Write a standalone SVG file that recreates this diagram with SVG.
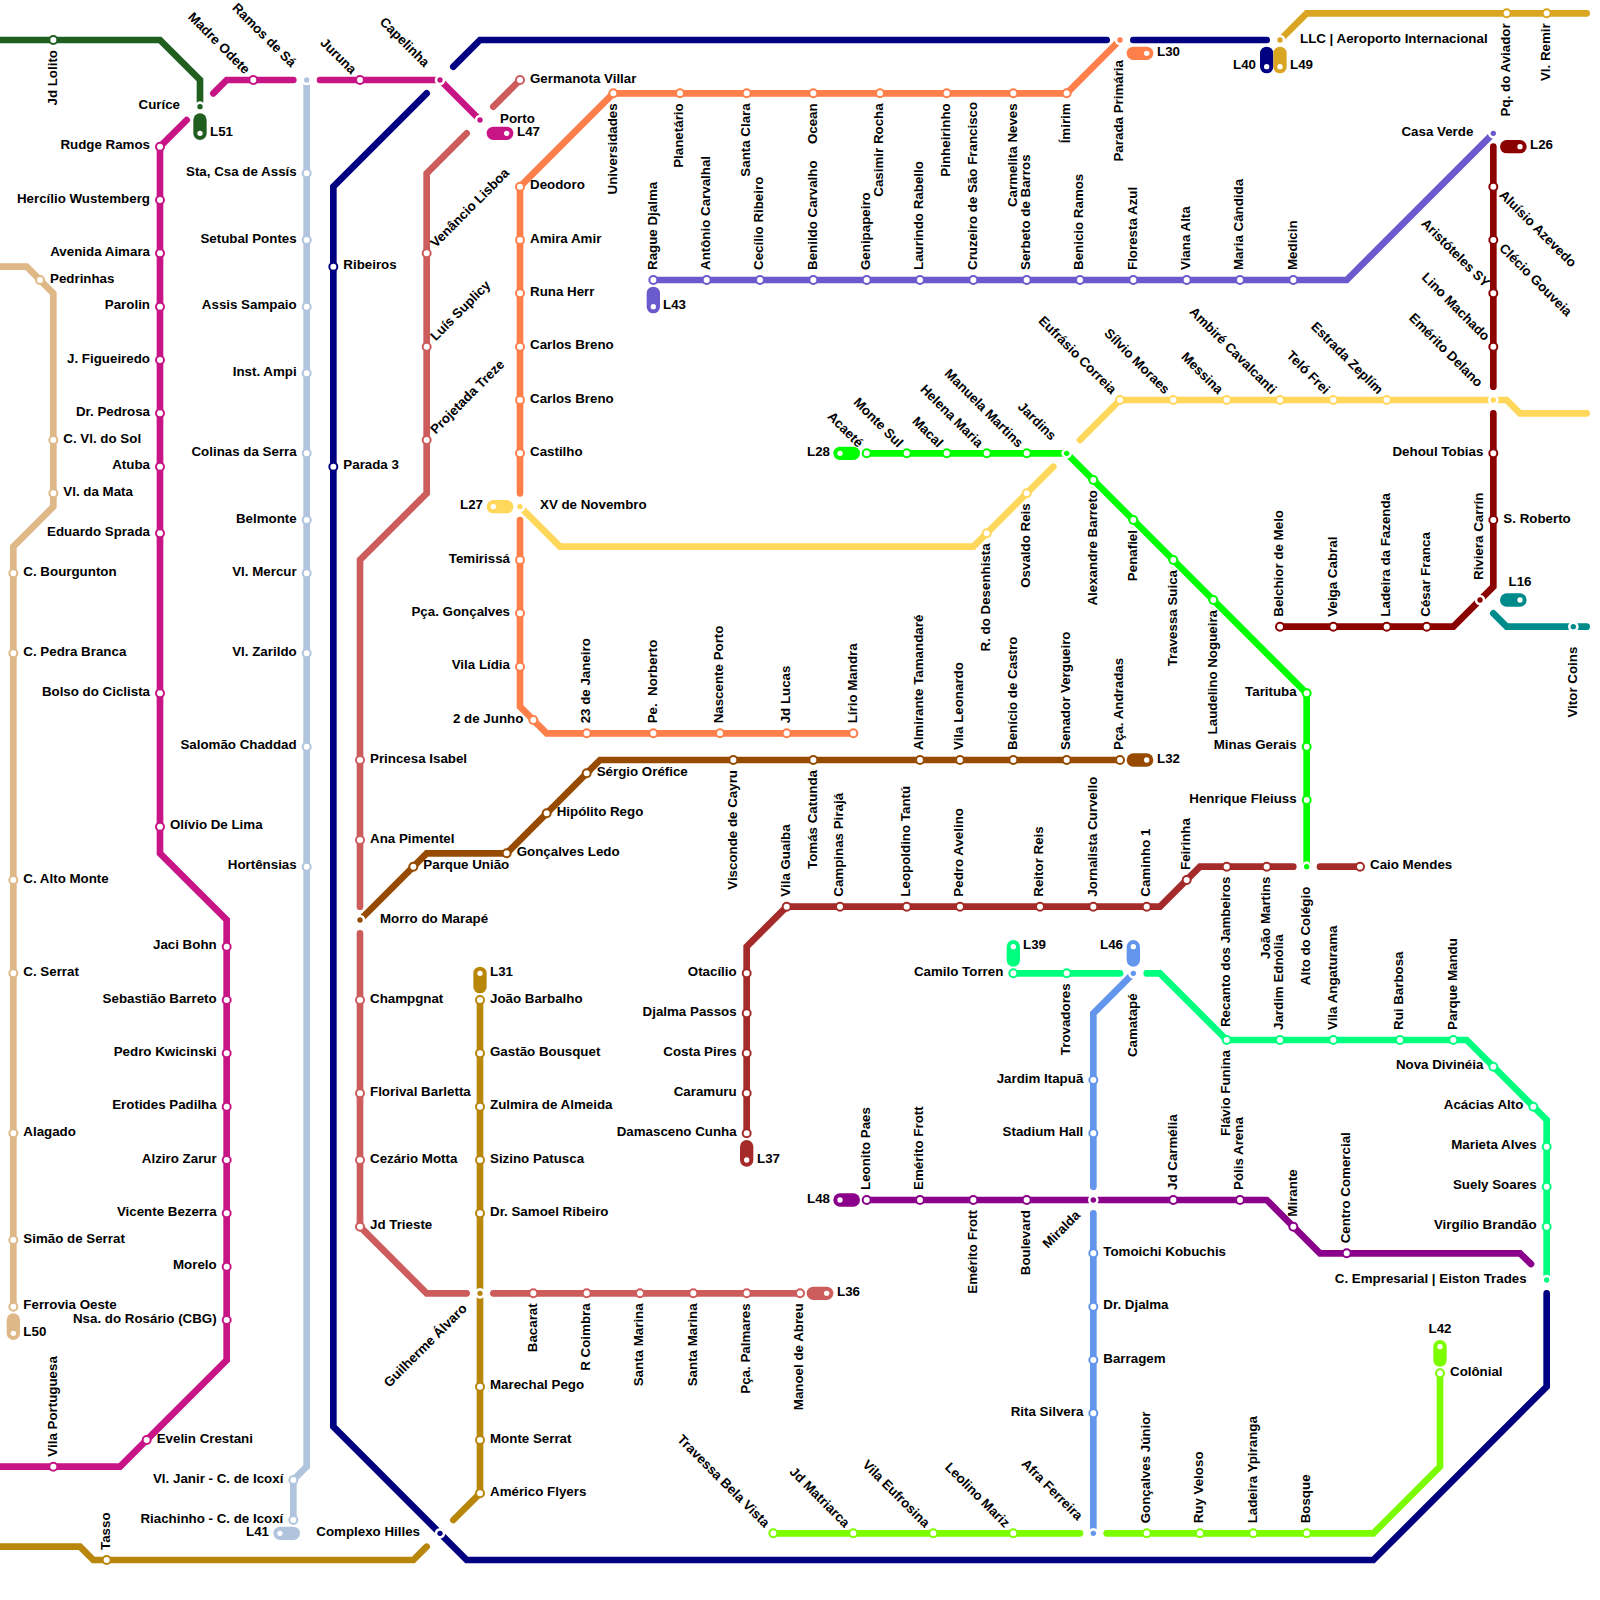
<svg xmlns="http://www.w3.org/2000/svg" width="1600" height="1600" viewBox="0 0 1600 1600">
<style>
text{font-family:"Liberation Sans",Arial,sans-serif;font-weight:bold;font-size:13.33px;fill:#000}
.e{text-anchor:end}.m{text-anchor:middle}
.v{transform:rotate(-90deg) translateY(.5px)}.d{transform:rotate(45deg)}.u{transform:rotate(-45deg)}
.ln{fill:none;stroke:currentColor;stroke-width:6.67;stroke-linecap:round;stroke-linejoin:miter}
.pl{fill:none;stroke:currentColor;stroke-width:13.33;stroke-linecap:round}
.st{fill:#fff;stroke:currentColor;stroke-width:2}
.rg,.pd{fill:#fff}.dt{fill:currentColor}
.dg{color:#215f21}.mg{color:#c71585}.tn{color:#deb887}.lb{color:#b0c4de}.nv{color:#000080}.sl{color:#cd5c5c}.or{color:#ff7f4a}.ye{color:#ffd75a}.lm{color:#00ff00}.gt{color:#daa520}.dk{color:#b8860b}.sb{color:#6a5acd}.dr{color:#8b0000}.te{color:#008b8b}.br{color:#964b00}.bk{color:#a52a2a}.sg{color:#00ff7f}.cb{color:#6495ed}.pp{color:#8b008b}.lw{color:#7cfc00}
</style>
<g id="connectors">
<polyline class="ln dg" points="0,40 160,40 200,80 200,106.67"/>
<polyline class="ln mg" points="0,1466.67 120,1466.67 226.67,1360 226.67,920 160,853.33 160,146.67 186.67,120"/>
<polyline class="ln mg" points="213.33,93.33 226.67,80 293.33,80"/>
<polyline class="ln mg" points="320,80 440,80 480,120"/>
<polyline class="ln tn" points="0,266.67 26.67,266.67 53.33,293.33 53.33,506.67 13.33,546.67 13.33,1306.67"/>
<polyline class="ln lb" points="306.67,80 306.67,1466.67 293.33,1480 293.33,1520"/>
<polyline class="ln nv" points="453.33,66.67 480,40 1106.67,40"/>
<polyline class="ln nv" points="1133.33,40 1266.67,40"/>
<polyline class="ln nv" points="426.67,93.33 333.33,186.67 333.33,1426.67 466.67,1560 1373.33,1560 1546.67,1386.67 1546.67,1293.33"/>
<polyline class="ln sl" points="520,80 493.33,106.67"/>
<polyline class="ln sl" points="466.67,133.33 426.67,173.33 426.67,493.33 360,560 360,906.67"/>
<polyline class="ln sl" points="360,933.33 360,1226.67 426.67,1293.33 466.67,1293.33"/>
<polyline class="ln sl" points="493.33,1293.33 800,1293.33"/>
<polyline class="ln or" points="1120,40 1066.67,93.33 613.33,93.33 520,186.67 520,493.33"/>
<polyline class="ln or" points="520,520 520,706.67 546.67,733.33 853.33,733.33"/>
<polyline class="ln ye" points="520,506.67 560,546.67 973.33,546.67 1053.33,466.67"/>
<polyline class="ln ye" points="1080,440 1120,400 1506.67,400 1520,413.33 1586.67,413.33"/>
<polyline class="ln lm" points="866.67,453.33 1066.67,453.33 1306.67,693.33 1306.67,866.67"/>
<polyline class="ln gt" points="1280,40 1306.67,13.33 1586.67,13.33"/>
<polyline class="ln dk" points="480,1000 480,1493.33 453.33,1520"/>
<polyline class="ln dk" points="426.67,1546.67 413.33,1560 93.33,1560 80,1546.67 0,1546.67"/>
<polyline class="ln sb" points="653.33,280 1346.67,280 1493.33,133.33"/>
<polyline class="ln dr" points="1493.33,146.67 1493.33,386.67"/>
<polyline class="ln dr" points="1493.33,413.33 1493.33,586.67 1453.33,626.67 1280,626.67"/>
<polyline class="ln te" points="1493.33,613.33 1506.67,626.67 1586.67,626.67"/>
<polyline class="ln br" points="360,920 426.67,853.33 506.67,853.33 600,760 1120,760"/>
<polyline class="ln bk" points="746.67,1133.33 746.67,946.67 786.67,906.67 1160,906.67 1200,866.67 1293.33,866.67"/>
<polyline class="ln bk" points="1320,866.67 1360,866.67"/>
<polyline class="ln sg" points="1013.33,973.33 1120,973.33"/>
<polyline class="ln sg" points="1146.67,973.33 1160,973.33 1226.67,1040 1466.67,1040 1546.67,1120 1546.67,1280"/>
<polyline class="ln cb" points="1133.33,973.33 1093.33,1013.33 1093.33,1186.67"/>
<polyline class="ln cb" points="1093.33,1213.33 1093.33,1533.33"/>
<polyline class="ln pp" points="866.67,1200 1266.67,1200 1320,1253.33 1520,1253.33 1531,1264"/>
<polyline class="ln lw" points="773.33,1533.33 1080,1533.33"/>
<polyline class="ln lw" points="1106.67,1533.33 1373.33,1533.33 1440,1466.67 1440,1373.33"/>
</g>
<g id="line-labels">
<g id="L51" class="dg"><line class="pl" x1="200" y1="120" x2="200" y2="133.33"/><circle class="pd" cx="200" cy="133.33" r="2.67"/><text x="210" y="136">L51</text></g>
<g id="L47" class="mg"><line class="pl" x1="493.33" y1="133.33" x2="506.67" y2="133.33"/><circle class="pd" cx="506.67" cy="133.33" r="2.67"/><text x="517" y="136">L47</text></g>
<g id="L50" class="tn"><line class="pl" x1="13.33" y1="1320" x2="13.33" y2="1333.33"/><circle class="pd" cx="13.33" cy="1333.33" r="2.67"/><text x="23.33" y="1336">L50</text></g>
<g id="L41" class="lb"><line class="pl" x1="280" y1="1533.33" x2="293.33" y2="1533.33"/><circle class="pd" cx="280" cy="1533.33" r="2.67"/><text class="e" x="269" y="1536">L41</text></g>
<g id="L40" class="nv"><line class="pl" x1="1266.67" y1="53.33" x2="1266.67" y2="66.67"/><circle class="pd" cx="1266.67" cy="66.67" r="2.67"/><text class="e" x="1256" y="69.33">L40</text></g>
<g id="L49" class="gt"><line class="pl" x1="1280" y1="53.33" x2="1280" y2="66.67"/><circle class="pd" cx="1280" cy="66.67" r="2.67"/><text x="1290" y="69.33">L49</text></g>
<g id="L36" class="sl"><line class="pl" x1="813.33" y1="1293.33" x2="826.67" y2="1293.33"/><circle class="pd" cx="826.67" cy="1293.33" r="2.67"/><text x="837" y="1296">L36</text></g>
<g id="L30" class="or"><line class="pl" x1="1133.33" y1="53.33" x2="1146.67" y2="53.33"/><circle class="pd" cx="1146.67" cy="53.33" r="2.67"/><text x="1157" y="56">L30</text></g>
<g id="L27" class="ye"><line class="pl" x1="493.33" y1="506.67" x2="506.67" y2="506.67"/><circle class="pd" cx="493.33" cy="506.67" r="2.67"/><text class="e" x="483" y="509.33">L27</text></g>
<g id="L28" class="lm"><line class="pl" x1="840" y1="453.33" x2="853.33" y2="453.33"/><circle class="pd" cx="840" cy="453.33" r="2.67"/><text class="e" x="830" y="456">L28</text></g>
<g id="L31" class="dk"><line class="pl" x1="480" y1="973.33" x2="480" y2="986.67"/><circle class="pd" cx="480" cy="973.33" r="2.67"/><text x="490" y="976">L31</text></g>
<g id="L43" class="sb"><line class="pl" x1="653.33" y1="293.33" x2="653.33" y2="306.67"/><circle class="pd" cx="653.33" cy="306.67" r="2.67"/><text x="663" y="309.33">L43</text></g>
<g id="L26" class="dr"><line class="pl" x1="1506.67" y1="146.67" x2="1520" y2="146.67"/><circle class="pd" cx="1520" cy="146.67" r="2.67"/><text x="1530" y="149.33">L26</text></g>
<g id="L16" class="te"><line class="pl" x1="1506.67" y1="600" x2="1520" y2="600"/><circle class="pd" cx="1520" cy="600" r="2.67"/><text class="m" x="1520" y="586">L16</text></g>
<g id="L32" class="br"><line class="pl" x1="1133.33" y1="760" x2="1146.67" y2="760"/><circle class="pd" cx="1146.67" cy="760" r="2.67"/><text x="1157" y="762.67">L32</text></g>
<g id="L37" class="bk"><line class="pl" x1="746.67" y1="1146.67" x2="746.67" y2="1160"/><circle class="pd" cx="746.67" cy="1160" r="2.67"/><text x="757" y="1162.67">L37</text></g>
<g id="L39" class="sg"><line class="pl" x1="1013.33" y1="946.67" x2="1013.33" y2="960"/><circle class="pd" cx="1013.33" cy="946.67" r="2.67"/><text x="1023" y="949.33">L39</text></g>
<g id="L46" class="cb"><line class="pl" x1="1133.33" y1="946.67" x2="1133.33" y2="960"/><circle class="pd" cx="1133.33" cy="946.67" r="2.67"/><text class="e" x="1123" y="949.33">L46</text></g>
<g id="L48" class="pp"><line class="pl" x1="840" y1="1200" x2="853.33" y2="1200"/><circle class="pd" cx="840" cy="1200" r="2.67"/><text class="e" x="830" y="1202.67">L48</text></g>
<g id="L42" class="lw"><line class="pl" x1="1440" y1="1346.67" x2="1440" y2="1360"/><circle class="pd" cx="1440" cy="1346.67" r="2.67"/><text class="m" x="1440" y="1333">L42</text></g>
</g>
<g id="stations">
<g id="dg1" class="dg" transform="translate(53.33 40)"><circle class="st" r="4"/><text class="v e" x="-10" y="2.67">Jd Lolito</text></g>
<g id="mg1" class="mg" transform="translate(160 146.67)"><circle class="st" r="4"/><text class="e" x="-10" y="2.67">Rudge Ramos</text></g>
<g id="mg2" class="mg" transform="translate(160 200)"><circle class="st" r="4"/><text class="e" x="-10" y="2.67">Hercílio Wustemberg</text></g>
<g id="mg3" class="mg" transform="translate(160 253.33)"><circle class="st" r="4"/><text class="e" x="-10" y="2.67">Avenida Aimara</text></g>
<g id="mg4" class="mg" transform="translate(160 306.67)"><circle class="st" r="4"/><text class="e" x="-10" y="2.67">Parolin</text></g>
<g id="mg5" class="mg" transform="translate(160 360)"><circle class="st" r="4"/><text class="e" x="-10" y="2.67">J. Figueiredo</text></g>
<g id="mg6" class="mg" transform="translate(160 413.33)"><circle class="st" r="4"/><text class="e" x="-10" y="2.67">Dr. Pedrosa</text></g>
<g id="mg7" class="mg" transform="translate(160 466.67)"><circle class="st" r="4"/><text class="e" x="-10" y="2.67">Atuba</text></g>
<g id="mg8" class="mg" transform="translate(160 533.33)"><circle class="st" r="4"/><text class="e" x="-10" y="2.67">Eduardo Sprada</text></g>
<g id="mg9" class="mg" transform="translate(160 693.33)"><circle class="st" r="4"/><text class="e" x="-10" y="2.67">Bolso do Ciclista</text></g>
<g id="mg10" class="mg" transform="translate(160 826.67)"><circle class="st" r="4"/><text x="10" y="2.67">Olívio De Lima</text></g>
<g id="mg11" class="mg" transform="translate(226.67 946.67)"><circle class="st" r="4"/><text class="e" x="-10" y="2.67">Jaci Bohn</text></g>
<g id="mg12" class="mg" transform="translate(226.67 1000)"><circle class="st" r="4"/><text class="e" x="-10" y="2.67">Sebastião Barreto</text></g>
<g id="mg13" class="mg" transform="translate(226.67 1053.33)"><circle class="st" r="4"/><text class="e" x="-10" y="2.67">Pedro Kwicinski</text></g>
<g id="mg14" class="mg" transform="translate(226.67 1106.67)"><circle class="st" r="4"/><text class="e" x="-10" y="2.67">Erotides Padilha</text></g>
<g id="mg15" class="mg" transform="translate(226.67 1160)"><circle class="st" r="4"/><text class="e" x="-10" y="2.67">Alziro Zarur</text></g>
<g id="mg16" class="mg" transform="translate(226.67 1213.33)"><circle class="st" r="4"/><text class="e" x="-10" y="2.67">Vicente Bezerra</text></g>
<g id="mg17" class="mg" transform="translate(226.67 1266.67)"><circle class="st" r="4"/><text class="e" x="-10" y="2.67">Morelo</text></g>
<g id="mg18" class="mg" transform="translate(226.67 1320)"><circle class="st" r="4"/><text class="e" x="-10" y="2.67">Nsa. do Rosário (CBG)</text></g>
<g id="mg19" class="mg" transform="translate(146.67 1440)"><circle class="st" r="4"/><text x="10" y="2.67">Evelin Crestani</text></g>
<g id="mg20" class="mg" transform="translate(53.33 1466.67)"><circle class="st" r="4"/><text class="v" x="10" y="2.67">Vila Portuguesa</text></g>
<g id="mg21" class="mg" transform="translate(253.33 80)"><circle class="st" r="4"/><text class="d e" x="-10" y="2.67">Madre Odete</text></g>
<g id="mg22" class="mg" transform="translate(360 80)"><circle class="st" r="4"/><text class="d e" x="-10" y="2.67">Juruna</text></g>
<g id="tn1" class="tn" transform="translate(40 280)"><circle class="st" r="4"/><text x="10" y="2.67">Pedrinhas</text></g>
<g id="tn2" class="tn" transform="translate(53.33 440)"><circle class="st" r="4"/><text x="10" y="2.67">C. Vl. do Sol</text></g>
<g id="tn3" class="tn" transform="translate(53.33 493.33)"><circle class="st" r="4"/><text x="10" y="2.67">Vl. da Mata</text></g>
<g id="tn4" class="tn" transform="translate(13.33 573.33)"><circle class="st" r="4"/><text x="10" y="2.67">C. Bourgunton</text></g>
<g id="tn5" class="tn" transform="translate(13.33 653.33)"><circle class="st" r="4"/><text x="10" y="2.67">C. Pedra Branca</text></g>
<g id="tn6" class="tn" transform="translate(13.33 880)"><circle class="st" r="4"/><text x="10" y="2.67">C. Alto Monte</text></g>
<g id="tn7" class="tn" transform="translate(13.33 973.33)"><circle class="st" r="4"/><text x="10" y="2.67">C. Serrat</text></g>
<g id="tn8" class="tn" transform="translate(13.33 1133.33)"><circle class="st" r="4"/><text x="10" y="2.67">Alagado</text></g>
<g id="tn9" class="tn" transform="translate(13.33 1240)"><circle class="st" r="4"/><text x="10" y="2.67">Simão de Serrat</text></g>
<g id="tn10" class="tn" transform="translate(13.33 1306.67)"><circle class="st" r="4"/><text x="10" y="2.67">Ferrovia Oeste</text></g>
<g id="lb1" class="lb" transform="translate(306.67 173.33)"><circle class="st" r="4"/><text class="e" x="-10" y="2.67">Sta, Csa de Assís</text></g>
<g id="lb2" class="lb" transform="translate(306.67 240)"><circle class="st" r="4"/><text class="e" x="-10" y="2.67">Setubal Pontes</text></g>
<g id="lb3" class="lb" transform="translate(306.67 306.67)"><circle class="st" r="4"/><text class="e" x="-10" y="2.67">Assis Sampaio</text></g>
<g id="lb4" class="lb" transform="translate(306.67 373.33)"><circle class="st" r="4"/><text class="e" x="-10" y="2.67">Inst. Ampi</text></g>
<g id="lb5" class="lb" transform="translate(306.67 453.33)"><circle class="st" r="4"/><text class="e" x="-10" y="2.67">Colinas da Serra</text></g>
<g id="lb6" class="lb" transform="translate(306.67 520)"><circle class="st" r="4"/><text class="e" x="-10" y="2.67">Belmonte</text></g>
<g id="lb7" class="lb" transform="translate(306.67 573.33)"><circle class="st" r="4"/><text class="e" x="-10" y="2.67">Vl. Mercur</text></g>
<g id="lb8" class="lb" transform="translate(306.67 653.33)"><circle class="st" r="4"/><text class="e" x="-10" y="2.67">Vl. Zarildo</text></g>
<g id="lb9" class="lb" transform="translate(306.67 746.67)"><circle class="st" r="4"/><text class="e" x="-10" y="2.67">Salomão Chaddad</text></g>
<g id="lb10" class="lb" transform="translate(306.67 866.67)"><circle class="st" r="4"/><text class="e" x="-10" y="2.67">Hortênsias</text></g>
<g id="lb11" class="lb" transform="translate(293.33 1480)"><circle class="st" r="4"/><text class="e" x="-10" y="2.67">Vl. Janir - C. de Icoxí</text></g>
<g id="lb12" class="lb" transform="translate(293.33 1520)"><circle class="st" r="4"/><text class="e" x="-10" y="2.67">Riachinho - C. de Icoxí</text></g>
<g id="nv1" class="nv" transform="translate(333.33 266.67)"><circle class="st" r="4"/><text x="10" y="2.67">Ribeiros</text></g>
<g id="nv2" class="nv" transform="translate(333.33 466.67)"><circle class="st" r="4"/><text x="10" y="2.67">Parada 3</text></g>
<g id="sl1" class="sl" transform="translate(520 80)"><circle class="st" r="4"/><text x="10" y="2.67">Germanota Villar</text></g>
<g id="sl2" class="sl" transform="translate(426.67 253.33)"><circle class="st" r="4"/><text class="u" x="10" y="2.67">Venâncio Lisboa</text></g>
<g id="sl3" class="sl" transform="translate(426.67 346.67)"><circle class="st" r="4"/><text class="u" x="10" y="2.67">Luís Suplicy</text></g>
<g id="sl4" class="sl" transform="translate(426.67 440)"><circle class="st" r="4"/><text class="u" x="10" y="2.67">Projetada Treze</text></g>
<g id="sl5" class="sl" transform="translate(360 760)"><circle class="st" r="4"/><text x="10" y="2.67">Princesa Isabel</text></g>
<g id="sl6" class="sl" transform="translate(360 840)"><circle class="st" r="4"/><text x="10" y="2.67">Ana Pimentel</text></g>
<g id="sl7" class="sl" transform="translate(360 1000)"><circle class="st" r="4"/><text x="10" y="2.67">Champgnat</text></g>
<g id="sl8" class="sl" transform="translate(360 1093.33)"><circle class="st" r="4"/><text x="10" y="2.67">Florival Barletta</text></g>
<g id="sl9" class="sl" transform="translate(360 1160)"><circle class="st" r="4"/><text x="10" y="2.67">Cezário Motta</text></g>
<g id="sl10" class="sl" transform="translate(360 1226.67)"><circle class="st" r="4"/><text x="10" y="2.67">Jd Trieste</text></g>
<g id="sl11" class="sl" transform="translate(533.33 1293.33)"><circle class="st" r="4"/><text class="v e" x="-10" y="2.67">Bacarat</text></g>
<g id="sl12" class="sl" transform="translate(586.67 1293.33)"><circle class="st" r="4"/><text class="v e" x="-10" y="2.67">R Coimbra</text></g>
<g id="sl13" class="sl" transform="translate(640 1293.33)"><circle class="st" r="4"/><text class="v e" x="-10" y="2.67">Santa Marina</text></g>
<g id="sl14" class="sl" transform="translate(693.33 1293.33)"><circle class="st" r="4"/><text class="v e" x="-10" y="2.67">Santa Marina</text></g>
<g id="sl15" class="sl" transform="translate(746.67 1293.33)"><circle class="st" r="4"/><text class="v e" x="-10" y="2.67">Pça. Palmares</text></g>
<g id="sl16" class="sl" transform="translate(800 1293.33)"><circle class="st" r="4"/><text class="v e" x="-10" y="2.67">Manoel de Abreu</text></g>
<g id="or1" class="or" transform="translate(613.33 93.33)"><circle class="st" r="4"/><text class="v e" x="-10" y="2.67">Universidades</text></g>
<g id="or2" class="or" transform="translate(680 93.33)"><circle class="st" r="4"/><text class="v e" x="-10" y="2.67">Planetário</text></g>
<g id="or3" class="or" transform="translate(746.67 93.33)"><circle class="st" r="4"/><text class="v e" x="-10" y="2.67">Santa Clara</text></g>
<g id="or4" class="or" transform="translate(813.33 93.33)"><circle class="st" r="4"/><text class="v e" x="-10" y="2.67">Ocean</text></g>
<g id="or5" class="or" transform="translate(880 93.33)"><circle class="st" r="4"/><text class="v e" x="-10" y="2.67">Casimir Rocha</text></g>
<g id="or6" class="or" transform="translate(946.67 93.33)"><circle class="st" r="4"/><text class="v e" x="-10" y="2.67">Pinheirinho</text></g>
<g id="or7" class="or" transform="translate(1013.33 93.33)"><circle class="st" r="4"/><text class="v e" x="-10" y="2.67">Carmelita Neves</text></g>
<g id="or8" class="or" transform="translate(1066.67 93.33)"><circle class="st" r="4"/><text class="v e" x="-10" y="2.67">Ímirim</text></g>
<g id="or9" class="or" transform="translate(520 186.67)"><circle class="st" r="4"/><text x="10" y="2.67">Deodoro</text></g>
<g id="or10" class="or" transform="translate(520 240)"><circle class="st" r="4"/><text x="10" y="2.67">Amira Amir</text></g>
<g id="or11" class="or" transform="translate(520 293.33)"><circle class="st" r="4"/><text x="10" y="2.67">Runa Herr</text></g>
<g id="or12" class="or" transform="translate(520 346.67)"><circle class="st" r="4"/><text x="10" y="2.67">Carlos Breno</text></g>
<g id="or13" class="or" transform="translate(520 400)"><circle class="st" r="4"/><text x="10" y="2.67">Carlos Breno</text></g>
<g id="or14" class="or" transform="translate(520 453.33)"><circle class="st" r="4"/><text x="10" y="2.67">Castilho</text></g>
<g id="or15" class="or" transform="translate(520 560)"><circle class="st" r="4"/><text class="e" x="-10" y="2.67">Temirissá</text></g>
<g id="or16" class="or" transform="translate(520 613.33)"><circle class="st" r="4"/><text class="e" x="-10" y="2.67">Pça. Gonçalves</text></g>
<g id="or17" class="or" transform="translate(520 666.67)"><circle class="st" r="4"/><text class="e" x="-10" y="2.67">Vila Lídia</text></g>
<g id="or18" class="or" transform="translate(533.33 720)"><circle class="st" r="4"/><text class="e" x="-10" y="2.67">2 de Junho</text></g>
<g id="or19" class="or" transform="translate(586.67 733.33)"><circle class="st" r="4"/><text class="v" x="10" y="2.67">23 de Janeiro</text></g>
<g id="or20" class="or" transform="translate(653.33 733.33)"><circle class="st" r="4"/><text class="v" x="10" y="2.67" xml:space="preserve">Pe.  Norberto</text></g>
<g id="or21" class="or" transform="translate(720 733.33)"><circle class="st" r="4"/><text class="v" x="10" y="2.67">Nascente Porto</text></g>
<g id="or22" class="or" transform="translate(786.67 733.33)"><circle class="st" r="4"/><text class="v" x="10" y="2.67">Jd Lucas</text></g>
<g id="or23" class="or" transform="translate(853.33 733.33)"><circle class="st" r="4"/><text class="v" x="10" y="2.67">Lírio Mandra</text></g>
<g id="sb1" class="sb" transform="translate(653.33 280)"><circle class="st" r="4"/><text class="v" x="10" y="2.67">Rague Djalma</text></g>
<g id="sb2" class="sb" transform="translate(706.67 280)"><circle class="st" r="4"/><text class="v" x="10" y="2.67">Antônio Carvalhal</text></g>
<g id="sb3" class="sb" transform="translate(760 280)"><circle class="st" r="4"/><text class="v" x="10" y="2.67">Cecílio Ribeiro</text></g>
<g id="sb4" class="sb" transform="translate(813.33 280)"><circle class="st" r="4"/><text class="v" x="10" y="2.67">Benildo Carvalho</text></g>
<g id="sb5" class="sb" transform="translate(866.67 280)"><circle class="st" r="4"/><text class="v" x="10" y="2.67">Genipapeiro</text></g>
<g id="sb6" class="sb" transform="translate(920 280)"><circle class="st" r="4"/><text class="v" x="10" y="2.67">Laurindo Rabello</text></g>
<g id="sb7" class="sb" transform="translate(973.33 280)"><circle class="st" r="4"/><text class="v" x="10" y="2.67">Cruzeiro de São Francisco</text></g>
<g id="sb8" class="sb" transform="translate(1026.67 280)"><circle class="st" r="4"/><text class="v" x="10" y="2.67">Serbeto de Barros</text></g>
<g id="sb9" class="sb" transform="translate(1080 280)"><circle class="st" r="4"/><text class="v" x="10" y="2.67">Benicio Ramos</text></g>
<g id="sb10" class="sb" transform="translate(1133.33 280)"><circle class="st" r="4"/><text class="v" x="10" y="2.67">Floresta Azul</text></g>
<g id="sb11" class="sb" transform="translate(1186.67 280)"><circle class="st" r="4"/><text class="v" x="10" y="2.67">Viana Alta</text></g>
<g id="sb12" class="sb" transform="translate(1240 280)"><circle class="st" r="4"/><text class="v" x="10" y="2.67">Maria Cândida</text></g>
<g id="sb13" class="sb" transform="translate(1293.33 280)"><circle class="st" r="4"/><text class="v" x="10" y="2.67">Medicin</text></g>
<g id="gt1" class="gt" transform="translate(1506.67 13.33)"><circle class="st" r="4"/><text class="v e" x="-10" y="2.67">Pq. do Aviador</text></g>
<g id="gt2" class="gt" transform="translate(1546.67 13.33)"><circle class="st" r="4"/><text class="v e" x="-10" y="2.67">Vl. Remir</text></g>
<g id="dr1" class="dr" transform="translate(1493.33 186.67)"><circle class="st" r="4"/><text class="d" x="10" y="2.67">Aluísio Azevedo</text></g>
<g id="dr2" class="dr" transform="translate(1493.33 240)"><circle class="st" r="4"/><text class="d" x="10" y="2.67">Clécio Gouveia</text></g>
<g id="dr3" class="dr" transform="translate(1493.33 293.33)"><circle class="st" r="4"/><text class="d e" x="-10" y="2.67">Aristóteles SY</text></g>
<g id="dr4" class="dr" transform="translate(1493.33 346.67)"><circle class="st" r="4"/><text class="d e" x="-10" y="2.67">Lino Machado</text></g>
<g id="dr5" class="dr" transform="translate(1493.33 453.33)"><circle class="st" r="4"/><text class="e" x="-10" y="2.67">Dehoul Tobias</text></g>
<g id="dr6" class="dr" transform="translate(1493.33 520)"><circle class="st" r="4"/><text x="10" y="2.67">S. Roberto</text></g>
<g id="dr7" class="dr" transform="translate(1280 626.67)"><circle class="st" r="4"/><text class="v" x="10" y="2.67">Belchior de Melo</text></g>
<g id="dr8" class="dr" transform="translate(1333.33 626.67)"><circle class="st" r="4"/><text class="v" x="10" y="2.67">Veiga Cabral</text></g>
<g id="dr9" class="dr" transform="translate(1386.67 626.67)"><circle class="st" r="4"/><text class="v" x="10" y="2.67">Ladeira da Fazenda</text></g>
<g id="dr10" class="dr" transform="translate(1426.67 626.67)"><circle class="st" r="4"/><text class="v" x="10" y="2.67">César Franca</text></g>
<g id="ye1" class="ye" transform="translate(986.67 533.33)"><circle class="st" r="4"/><text class="v e" x="-10" y="2.67">R. do Desenhista</text></g>
<g id="ye2" class="ye" transform="translate(1026.67 493.33)"><circle class="st" r="4"/><text class="v e" x="-10" y="2.67">Osvaldo Reis</text></g>
<g id="ye3" class="ye" transform="translate(1120 400)"><circle class="st" r="4"/><text class="d e" x="-10" y="2.67">Eufrásio Correia</text></g>
<g id="ye4" class="ye" transform="translate(1173.33 400)"><circle class="st" r="4"/><text class="d e" x="-10" y="2.67">Sílvio Moraes</text></g>
<g id="ye5" class="ye" transform="translate(1226.67 400)"><circle class="st" r="4"/><text class="d e" x="-10" y="2.67">Messina</text></g>
<g id="ye6" class="ye" transform="translate(1280 400)"><circle class="st" r="4"/><text class="d e" x="-10" y="2.67">Ambiré Cavalcanti</text></g>
<g id="ye7" class="ye" transform="translate(1333.33 400)"><circle class="st" r="4"/><text class="d e" x="-10" y="2.67">Teló Frei</text></g>
<g id="ye8" class="ye" transform="translate(1386.67 400)"><circle class="st" r="4"/><text class="d e" x="-10" y="2.67">Estrada Zeplím</text></g>
<g id="lm1" class="lm" transform="translate(866.67 453.33)"><circle class="st" r="4"/><text class="d e" x="-10" y="2.67">Acaeté</text></g>
<g id="lm2" class="lm" transform="translate(906.67 453.33)"><circle class="st" r="4"/><text class="d e" x="-10" y="2.67">Monte Sul</text></g>
<g id="lm3" class="lm" transform="translate(946.67 453.33)"><circle class="st" r="4"/><text class="d e" x="-10" y="2.67">Macal</text></g>
<g id="lm4" class="lm" transform="translate(986.67 453.33)"><circle class="st" r="4"/><text class="d e" x="-10" y="2.67">Helena Maria</text></g>
<g id="lm5" class="lm" transform="translate(1026.67 453.33)"><circle class="st" r="4"/><text class="d e" x="-10" y="2.67">Manuela Martins</text></g>
<g id="lm6" class="lm" transform="translate(1093.33 480)"><circle class="st" r="4"/><text class="v e" x="-10" y="2.67">Alexandre Barreto</text></g>
<g id="lm7" class="lm" transform="translate(1133.33 520)"><circle class="st" r="4"/><text class="v e" x="-10" y="2.67">Penafiel</text></g>
<g id="lm8" class="lm" transform="translate(1173.33 560)"><circle class="st" r="4"/><text class="v e" x="-10" y="2.67">Travessa Suica</text></g>
<g id="lm9" class="lm" transform="translate(1213.33 600)"><circle class="st" r="4"/><text class="v e" x="-10" y="2.67">Laudelino Nogueira</text></g>
<g id="lm10" class="lm" transform="translate(1306.67 693.33)"><circle class="st" r="4"/><text class="e" x="-10" y="2.67">Tarituba</text></g>
<g id="lm11" class="lm" transform="translate(1306.67 746.67)"><circle class="st" r="4"/><text class="e" x="-10" y="2.67">Minas Gerais</text></g>
<g id="lm12" class="lm" transform="translate(1306.67 800)"><circle class="st" r="4"/><text class="e" x="-10" y="2.67">Henrique Fleiuss</text></g>
<g id="br1" class="br" transform="translate(413.33 866.67)"><circle class="st" r="4"/><text x="10" y="2.67">Parque União</text></g>
<g id="br2" class="br" transform="translate(506.67 853.33)"><circle class="st" r="4"/><text x="10" y="2.67">Gonçalves Ledo</text></g>
<g id="br3" class="br" transform="translate(546.67 813.33)"><circle class="st" r="4"/><text x="10" y="2.67">Hipólito Rego</text></g>
<g id="br4" class="br" transform="translate(586.67 773.33)"><circle class="st" r="4"/><text x="10" y="2.67">Sérgio Oréfice</text></g>
<g id="br5" class="br" transform="translate(733.33 760)"><circle class="st" r="4"/><text class="v e" x="-10" y="2.67">Visconde de Cayru</text></g>
<g id="br6" class="br" transform="translate(813.33 760)"><circle class="st" r="4"/><text class="v e" x="-10" y="2.67">Tomás Catunda</text></g>
<g id="br7" class="br" transform="translate(920 760)"><circle class="st" r="4"/><text class="v" x="10" y="2.67">Almirante Tamandaré</text></g>
<g id="br8" class="br" transform="translate(960 760)"><circle class="st" r="4"/><text class="v" x="10" y="2.67">Vila Leonardo</text></g>
<g id="br9" class="br" transform="translate(1013.33 760)"><circle class="st" r="4"/><text class="v" x="10" y="2.67">Benício de Castro</text></g>
<g id="br10" class="br" transform="translate(1066.67 760)"><circle class="st" r="4"/><text class="v" x="10" y="2.67">Senador Vergueiro</text></g>
<g id="br11" class="br" transform="translate(1120 760)"><circle class="st" r="4"/><text class="v" x="10" y="2.67">Pça. Andradas</text></g>
<g id="bk1" class="bk" transform="translate(746.67 973.33)"><circle class="st" r="4"/><text class="e" x="-10" y="2.67">Otacílio</text></g>
<g id="bk2" class="bk" transform="translate(746.67 1013.33)"><circle class="st" r="4"/><text class="e" x="-10" y="2.67">Djalma Passos</text></g>
<g id="bk3" class="bk" transform="translate(746.67 1053.33)"><circle class="st" r="4"/><text class="e" x="-10" y="2.67">Costa Pires</text></g>
<g id="bk4" class="bk" transform="translate(746.67 1093.33)"><circle class="st" r="4"/><text class="e" x="-10" y="2.67">Caramuru</text></g>
<g id="bk5" class="bk" transform="translate(746.67 1133.33)"><circle class="st" r="4"/><text class="e" x="-10" y="2.67">Damasceno Cunha</text></g>
<g id="bk6" class="bk" transform="translate(786.67 906.67)"><circle class="st" r="4"/><text class="v" x="10" y="2.67">Vila Guaíba</text></g>
<g id="bk7" class="bk" transform="translate(840 906.67)"><circle class="st" r="4"/><text class="v" x="10" y="2.67">Campinas Pirajá</text></g>
<g id="bk8" class="bk" transform="translate(906.67 906.67)"><circle class="st" r="4"/><text class="v" x="10" y="2.67">Leopoldino Tantú</text></g>
<g id="bk9" class="bk" transform="translate(960 906.67)"><circle class="st" r="4"/><text class="v" x="10" y="2.67">Pedro Avelino</text></g>
<g id="bk10" class="bk" transform="translate(1040 906.67)"><circle class="st" r="4"/><text class="v" x="10" y="2.67">Reitor Reis</text></g>
<g id="bk11" class="bk" transform="translate(1093.33 906.67)"><circle class="st" r="4"/><text class="v" x="10" y="2.67">Jornalista Curvello</text></g>
<g id="bk12" class="bk" transform="translate(1146.67 906.67)"><circle class="st" r="4"/><text class="v" x="10" y="2.67">Caminho 1</text></g>
<g id="bk13" class="bk" transform="translate(1186.67 880)"><circle class="st" r="4"/><text class="v" x="10" y="2.67">Feirinha</text></g>
<g id="bk14" class="bk" transform="translate(1226.67 866.67)"><circle class="st" r="4"/><text class="v e" x="-10" y="2.67">Recanto dos Jambeiros</text></g>
<g id="bk15" class="bk" transform="translate(1266.67 866.67)"><circle class="st" r="4"/><text class="v e" x="-10" y="2.67">João Martins</text></g>
<g id="bk16" class="bk" transform="translate(1360 866.67)"><circle class="st" r="4"/><text x="10" y="2.67">Caio Mendes</text></g>
<g id="sg1" class="sg" transform="translate(1013.33 973.33)"><circle class="st" r="4"/><text class="e" x="-10" y="2.67">Camilo Torren</text></g>
<g id="sg2" class="sg" transform="translate(1066.67 973.33)"><circle class="st" r="4"/><text class="v e" x="-10" y="2.67">Trovadores</text></g>
<g id="sg3" class="sg" transform="translate(1226.67 1040)"><circle class="st" r="4"/><text class="v e" x="-10" y="2.67">Flávio Funina</text></g>
<g id="sg4" class="sg" transform="translate(1280 1040)"><circle class="st" r="4"/><text class="v" x="10" y="2.67">Jardim Ednólia</text></g>
<g id="sg5" class="sg" transform="translate(1333.33 1040)"><circle class="st" r="4"/><text class="v" x="10" y="2.67">Vila Angaturama</text></g>
<g id="sg6" class="sg" transform="translate(1400 1040)"><circle class="st" r="4"/><text class="v" x="10" y="2.67">Rui Barbosa</text></g>
<g id="sg7" class="sg" transform="translate(1453.33 1040)"><circle class="st" r="4"/><text class="v" x="10" y="2.67">Parque Mandu</text></g>
<g id="sg8" class="sg" transform="translate(1493.33 1066.67)"><circle class="st" r="4"/><text class="e" x="-10" y="2.67">Nova Divinéia</text></g>
<g id="sg9" class="sg" transform="translate(1533.33 1106.67)"><circle class="st" r="4"/><text class="e" x="-10" y="2.67">Acácias Alto</text></g>
<g id="sg10" class="sg" transform="translate(1546.67 1146.67)"><circle class="st" r="4"/><text class="e" x="-10" y="2.67">Marieta Alves</text></g>
<g id="sg11" class="sg" transform="translate(1546.67 1186.67)"><circle class="st" r="4"/><text class="e" x="-10" y="2.67">Suely Soares</text></g>
<g id="sg12" class="sg" transform="translate(1546.67 1226.67)"><circle class="st" r="4"/><text class="e" x="-10" y="2.67">Virgílio Brandão</text></g>
<g id="cb1" class="cb" transform="translate(1093.33 1080)"><circle class="st" r="4"/><text class="e" x="-10" y="2.67">Jardim Itapuã</text></g>
<g id="cb2" class="cb" transform="translate(1093.33 1133.33)"><circle class="st" r="4"/><text class="e" x="-10" y="2.67">Stadium Hall</text></g>
<g id="cb3" class="cb" transform="translate(1093.33 1253.33)"><circle class="st" r="4"/><text x="10" y="2.67">Tomoichi Kobuchis</text></g>
<g id="cb4" class="cb" transform="translate(1093.33 1306.67)"><circle class="st" r="4"/><text x="10" y="2.67">Dr. Djalma</text></g>
<g id="cb5" class="cb" transform="translate(1093.33 1360)"><circle class="st" r="4"/><text x="10" y="2.67">Barragem</text></g>
<g id="cb6" class="cb" transform="translate(1093.33 1413.33)"><circle class="st" r="4"/><text class="e" x="-10" y="2.67">Rita Silvera</text></g>
<g id="pp1" class="pp" transform="translate(866.67 1200)"><circle class="st" r="4"/><text class="v" x="10" y="2.67">Leonito Paes</text></g>
<g id="pp2" class="pp" transform="translate(920 1200)"><circle class="st" r="4"/><text class="v" x="10" y="2.67">Emérito Frott</text></g>
<g id="pp3" class="pp" transform="translate(973.33 1200)"><circle class="st" r="4"/><text class="v e" x="-10" y="2.67">Emérito Frott</text></g>
<g id="pp4" class="pp" transform="translate(1026.67 1200)"><circle class="st" r="4"/><text class="v e" x="-10" y="2.67">Boulevard</text></g>
<g id="pp5" class="pp" transform="translate(1173.33 1200)"><circle class="st" r="4"/><text class="v" x="10" y="2.67">Jd Carmélia</text></g>
<g id="pp6" class="pp" transform="translate(1240 1200)"><circle class="st" r="4"/><text class="v" x="10" y="2.67">Pólis Arena</text></g>
<g id="pp7" class="pp" transform="translate(1293.33 1226.67)"><circle class="st" r="4"/><text class="v" x="10" y="2.67">Mirante</text></g>
<g id="pp8" class="pp" transform="translate(1346.67 1253.33)"><circle class="st" r="4"/><text class="v" x="10" y="2.67">Centro Comercial</text></g>
<g id="lw1" class="lw" transform="translate(773.33 1533.33)"><circle class="st" r="4"/><text class="d e" x="-10" y="2.67">Travessa Bela Vista</text></g>
<g id="lw2" class="lw" transform="translate(853.33 1533.33)"><circle class="st" r="4"/><text class="d e" x="-10" y="2.67">Jd Matriarca</text></g>
<g id="lw3" class="lw" transform="translate(933.33 1533.33)"><circle class="st" r="4"/><text class="d e" x="-10" y="2.67">Vila Eufrosina</text></g>
<g id="lw4" class="lw" transform="translate(1013.33 1533.33)"><circle class="st" r="4"/><text class="d e" x="-10" y="2.67">Leolino Mariz</text></g>
<g id="lw5" class="lw" transform="translate(1146.67 1533.33)"><circle class="st" r="4"/><text class="v" x="10" y="2.67">Gonçalves Júnior</text></g>
<g id="lw6" class="lw" transform="translate(1200 1533.33)"><circle class="st" r="4"/><text class="v" x="10" y="2.67">Ruy Veloso</text></g>
<g id="lw7" class="lw" transform="translate(1253.33 1533.33)"><circle class="st" r="4"/><text class="v" x="10" y="2.67">Ladeira Ypiranga</text></g>
<g id="lw8" class="lw" transform="translate(1306.67 1533.33)"><circle class="st" r="4"/><text class="v" x="10" y="2.67">Bosque</text></g>
<g id="lw9" class="lw" transform="translate(1440 1373.33)"><circle class="st" r="4"/><text x="10" y="2.67">Colônial</text></g>
<g id="dk1" class="dk" transform="translate(480 1000)"><circle class="st" r="4"/><text x="10" y="2.67">João Barbalho</text></g>
<g id="dk2" class="dk" transform="translate(480 1053.33)"><circle class="st" r="4"/><text x="10" y="2.67">Gastão Bousquet</text></g>
<g id="dk3" class="dk" transform="translate(480 1106.67)"><circle class="st" r="4"/><text x="10" y="2.67">Zulmira de Almeida</text></g>
<g id="dk4" class="dk" transform="translate(480 1160)"><circle class="st" r="4"/><text x="10" y="2.67">Sizino Patusca</text></g>
<g id="dk5" class="dk" transform="translate(480 1213.33)"><circle class="st" r="4"/><text x="10" y="2.67">Dr. Samoel Ribeiro</text></g>
<g id="dk6" class="dk" transform="translate(480 1386.67)"><circle class="st" r="4"/><text x="10" y="2.67">Marechal Pego</text></g>
<g id="dk7" class="dk" transform="translate(480 1440)"><circle class="st" r="4"/><text x="10" y="2.67">Monte Serrat</text></g>
<g id="dk8" class="dk" transform="translate(480 1493.33)"><circle class="st" r="4"/><text x="10" y="2.67">Américo Flyers</text></g>
<g id="dk9" class="dk" transform="translate(106.67 1560)"><circle class="st" r="4"/><text class="v" x="10" y="2.67">Tasso</text></g>
</g>
<g id="transfers">
<g id="tr1" class="dg" transform="translate(200 106.67)"><circle class="rg" r="5.33"/><circle class="dt" r="2.67"/><text class="e" x="-20" y="2.67">Curíce</text></g>
<g id="tr2" class="lb" transform="translate(306.67 80)"><circle class="rg" r="5.33"/><circle class="dt" r="2.67"/><text class="d e" x="-20" y="2.67">Ramos de Sá</text></g>
<g id="tr3" class="mg" transform="translate(440 80)"><circle class="rg" r="5.33"/><circle class="dt" r="2.67"/><text class="d e" x="-20" y="2.67">Capelinha</text></g>
<g id="tr4" class="mg" transform="translate(480 120)"><circle class="rg" r="5.33"/><circle class="dt" r="2.67"/><text x="20" y="2.67">Porto</text></g>
<g id="tr5" class="dk" transform="translate(480 1293.33)"><circle class="rg" r="5.33"/><circle class="dt" r="2.67"/><text class="u e" x="-20" y="2.67">Guilherme Álvaro</text></g>
<g id="tr6" class="ye" transform="translate(520 506.67)"><circle class="rg" r="5.33"/><circle class="dt" r="2.67"/><text x="20" y="2.67">XV de Novembro</text></g>
<g id="tr7" class="br" transform="translate(360 920)"><circle class="rg" r="5.33"/><circle class="dt" r="2.67"/><text x="20" y="2.67">Morro do Marapé</text></g>
<g id="tr8" class="nv" transform="translate(440 1533.33)"><circle class="rg" r="5.33"/><circle class="dt" r="2.67"/><text class="e" x="-20" y="2.67">Complexo Hilles</text></g>
<g id="tr9" class="lm" transform="translate(1066.67 453.33)"><circle class="rg" r="5.33"/><circle class="dt" r="2.67"/><text class="d e" x="-20" y="2.67">Jardins</text></g>
<g id="tr10" class="or" transform="translate(1120 40)"><circle class="rg" r="5.33"/><circle class="dt" r="2.67"/><text class="v e" x="-20" y="2.67">Parada Primária</text></g>
<g id="tr11" class="gt" transform="translate(1280 40)"><circle class="rg" r="5.33"/><circle class="dt" r="2.67"/><text x="20" y="2.67">LLC | Aeroporto Internacional</text></g>
<g id="tr12" class="sb" transform="translate(1493.33 133.33)"><circle class="rg" r="5.33"/><circle class="dt" r="2.67"/><text class="e" x="-20" y="2.67">Casa Verde</text></g>
<g id="tr13" class="ye" transform="translate(1493.33 400)"><circle class="rg" r="5.33"/><circle class="dt" r="2.67"/><text class="d e" x="-20" y="2.67">Emérito Delano</text></g>
<g id="tr14" class="dr" transform="translate(1480 600)"><circle class="rg" r="5.33"/><circle class="dt" r="2.67"/><text class="v" x="20" y="2.67">Riviera Carrín</text></g>
<g id="tr15" class="te" transform="translate(1573.33 626.67)"><circle class="rg" r="5.33"/><circle class="dt" r="2.67"/><text class="v e" x="-20" y="2.67">Vitor Coins</text></g>
<g id="tr16" class="lm" transform="translate(1306.67 866.67)"><circle class="rg" r="5.33"/><circle class="dt" r="2.67"/><text class="v e" x="-20" y="2.67">Alto do Colégio</text></g>
<g id="tr17" class="cb" transform="translate(1133.33 973.33)"><circle class="rg" r="5.33"/><circle class="dt" r="2.67"/><text class="v e" x="-20" y="2.67">Camatapé</text></g>
<g id="tr18" class="pp" transform="translate(1093.33 1200)"><circle class="rg" r="5.33"/><circle class="dt" r="2.67"/><text class="u e" x="-20" y="2.67">Miralda</text></g>
<g id="tr19" class="sg" transform="translate(1546.67 1280)"><circle class="rg" r="5.33"/><circle class="dt" r="2.67"/><text class="e" x="-20" y="2.67">C. Empresarial | Eiston Trades</text></g>
<g id="tr20" class="cb" transform="translate(1093.33 1533.33)"><circle class="rg" r="5.33"/><circle class="dt" r="2.67"/><text class="d e" x="-20" y="2.67">Afra Ferreira</text></g>
</g>
</svg>
